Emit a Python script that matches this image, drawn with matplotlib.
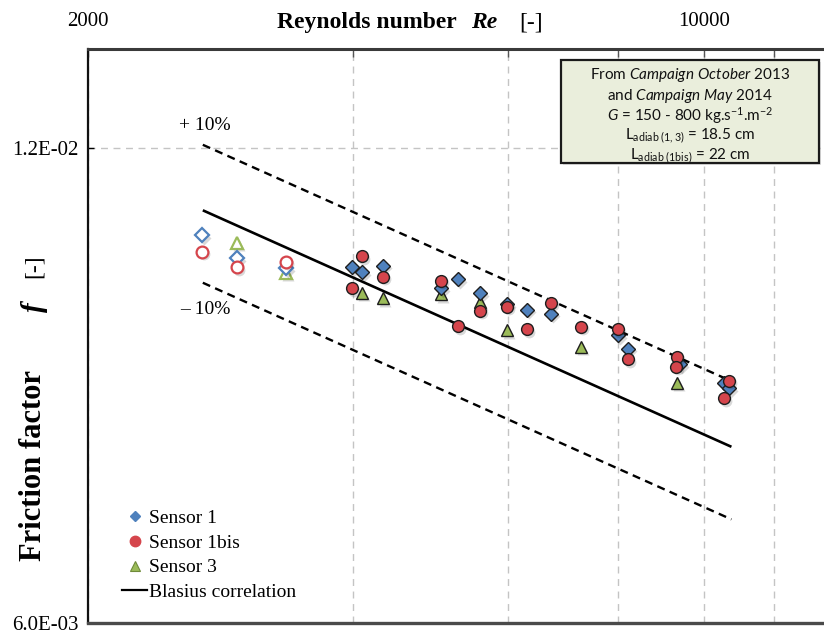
import matplotlib
matplotlib.use("Agg")
import matplotlib.pyplot as plt
from matplotlib.lines import Line2D
from matplotlib.patches import Rectangle
from matplotlib.transforms import offset_copy

# ---------------- data ----------------
# Sensor 1 (blue diamonds)
s1_open_re = [2694, 2952, 3356]
s1_open_f = [0.010570, 0.010217, 0.010073]
s1_re = [3988, 4093, 4324, 5030, 5261, 5572, 5978, 6300, 6709, 7993, 8205, 9398, 10544, 10684]
s1_f = [0.010084, 0.010010, 0.010107, 0.009779, 0.009908, 0.009708, 0.009558, 0.009481,
        0.009426, 0.009135, 0.008957, 0.008756, 0.008513, 0.008455]

# Sensor 1bis (red circles)
s1b_open_re = [2694, 2952, 3356]
s1b_open_f = [0.010316, 0.010084, 0.010166]
s1b_re = [4093, 3988, 4324, 5030, 5572, 5261, 5978, 6300, 6709, 7255, 7993, 8205, 9325, 9300,
          10684, 10544]
s1b_f = [0.010251, 0.009779, 0.009946, 0.009888, 0.009464, 0.009256, 0.009519, 0.009211,
         0.009576, 0.009245, 0.009215, 0.008818, 0.008849, 0.008724, 0.008546, 0.008332]

# Sensor 3 (green triangles)
s3_open_re = [2952, 3356]
s3_open_f = [0.010451, 0.010004]
s3_re = [4093, 4324, 5030, 5572, 5978, 7255, 9325]
s3_f = [0.009716, 0.009637, 0.009694, 0.009589, 0.009202, 0.008978, 0.008521]

# Blasius correlation and +/-10 % bands (end points)
blasius_re = [2700, 10750]
blasius_f = [0.01096, 0.00776]
plus10_f = [0.01206, 0.00854]
minus10_f = [0.00986, 0.00698]

x_ticks = [2000, 4000, 6000, 8000, 10000, 12000]
x_ticklabels = ["2000", "", "", "", "10000", ""]
y_ticks = [0.006, 0.012]
y_ticklabels = ["6.0E-03", "1.2E-02"]

# ---------------- figure ----------------
W, H = 824, 639
fig = plt.figure(figsize=(W / 100, H / 100), dpi=100)
plt.rcParams['mathtext.fontset'] = 'custom'
plt.rcParams['mathtext.rm'] = 'Lato'
plt.rcParams['mathtext.it'] = 'Lato:italic'
plt.rcParams['mathtext.bf'] = 'Lato:bold'

SERIF = "Liberation Serif"


def fx(x):
    return x / W


def fy(y):
    return 1 - y / H


ax = fig.add_axes([fx(88), fy(623), (832.5 - 88) / W, (623 - 49) / H])
ax.set_xscale("log")
ax.set_yscale("log")
ax.set_xlim(2000, 14000)
ax.set_ylim(0.006, 0.01387)

ax.xaxis.tick_top()
ax.set_xticks(x_ticks)
ax.set_xticklabels(x_ticklabels)
ax.set_yticks(y_ticks)
ax.set_yticklabels(y_ticklabels)
ax.minorticks_off()
ax.tick_params(axis="x", which="major", direction="in", length=6, width=1, color="#555555",
               pad=13, labelsize=15)
ax.tick_params(axis="y", which="major", direction="in", length=4, width=1, pad=7, labelsize=15)
for lab in ax.get_xticklabels() + ax.get_yticklabels():
    lab.set_fontfamily(SERIF)

ax.grid(True, which="major", linestyle=(0, (5, 4)), color="#c4c4c4", linewidth=1.0)
ax.set_axisbelow(True)

ax.spines["right"].set_visible(False)
ax.spines["top"].set_linewidth(2.2)
ax.spines["top"].set_color("#3a3a3a")
ax.spines["bottom"].set_linewidth(2.4)
ax.spines["bottom"].set_color("#4a4a4a")
ax.spines["left"].set_linewidth(1.6)
ax.spines["left"].set_color("#111111")

# lines
ax.plot(blasius_re, blasius_f, color="black", lw=1.9, zorder=2, label="Blasius correlation",
        solid_capstyle="butt")
ax.plot(blasius_re, plus10_f, color="black", lw=1.7, ls=(0, (3.4, 2.3)), zorder=2)
ax.plot(blasius_re, minus10_f, color="black", lw=1.7, ls=(0, (3.4, 2.3)), zorder=2)

BLUE = "#4F81BD"
RED = "#D5454C"
GREEN = "#9BBB59"
EDGE = "#1e1e1e"

shadow = offset_copy(ax.transData, fig=fig, x=1.2, y=-1.8, units="points")


def draw(re, f, marker, ms, fc, ec, z, open_=False, label=None):
    ax.plot(re, f, ls="none", marker=marker, ms=ms, mfc="#000000", mec="none", alpha=0.15,
            transform=shadow, zorder=z - 0.5)
    if open_:
        ax.plot(re, f, ls="none", marker=marker, ms=ms, mfc="white", mec=fc, mew=1.6, zorder=z)
    else:
        ax.plot(re, f, ls="none", marker=marker, ms=ms, mfc=fc, mec=ec, mew=1.0, zorder=z,
                label=label)


draw(s3_open_re, s3_open_f, "^", 9, GREEN, EDGE, 3, open_=True)
draw(s1_open_re, s1_open_f, "D", 7.3, BLUE, EDGE, 4, open_=True)
draw(s1b_open_re, s1b_open_f, "o", 8.5, RED, EDGE, 5, open_=True)
draw(s3_re, s3_f, "^", 9, GREEN, EDGE, 3)
draw(s1_re, s1_f, "D", 7.3, BLUE, EDGE, 4)
draw(s1b_re, s1b_f, "o", 8.5, RED, EDGE, 5)

# legend
handles = [
    Line2D([], [], ls="none", marker="D", ms=5.5, mfc=BLUE, mec=BLUE, label="Sensor 1"),
    Line2D([], [], ls="none", marker="o", ms=7.5, mfc=RED, mec=RED, label="Sensor 1bis"),
    Line2D([], [], ls="none", marker="^", ms=7, mfc=GREEN, mec="#6f8a3a", mew=0.8, label="Sensor 3"),
    Line2D([], [], color="black", lw=1.6, label="Blasius correlation"),
]
leg = fig.legend(handles=handles, loc="lower left", bbox_to_anchor=(fx(122), fy(601)),
                 frameon=False, prop={"family": SERIF, "size": 14}, handlelength=1.3,
                 handletextpad=0.1, labelspacing=0.36, borderpad=0, borderaxespad=0)

# band annotations
fig.text(fx(205), fy(125), "+ 10%", family=SERIF, fontsize=14, ha="center", va="center")
fig.text(fx(205), fy(310), "\u2013 10%", family=SERIF, fontsize=14, ha="center", va="center")

# x-axis title (top)
ty = fy(28)
fig.text(fx(277), ty, "Reynolds number", family=SERIF, fontsize=17, fontweight="bold",
         va="baseline", ha="left")
fig.text(fx(471), ty, "Re", family=SERIF, fontsize=17, fontweight="bold", style="italic",
         va="baseline", ha="left")
fig.text(fx(519), ty, "[-]", family=SERIF, fontsize=17, va="baseline", ha="left")

# y-axis title
lx = fx(34)
fig.text(lx, fy(561), "Friction factor", family=SERIF, fontsize=22, fontweight="bold",
         rotation=90, ha="center", va="bottom")
fig.text(lx, fy(312), "f", family=SERIF, fontsize=21, fontweight="bold", style="italic",
         rotation=90, ha="center", va="bottom")
fig.text(lx, fy(278), "[-]", family=SERIF, fontsize=17, rotation=90, ha="center", va="bottom")

# info box
bx0, by0, bx1, by1 = 561, 60, 819, 163
fig.patches.append(Rectangle((fx(bx0) + 2 / W, fy(by1) - 2 / H), (bx1 - bx0) / W, (by1 - by0) / H,
                             transform=fig.transFigure, fc="#000000", alpha=0.12, ec="none",
                             zorder=8))
fig.patches.append(Rectangle((fx(bx0), fy(by1)), (bx1 - bx0) / W, (by1 - by0) / H,
                             transform=fig.transFigure, fc="#EAEEDC", ec="#1a1a1a", lw=1.6,
                             zorder=9))
cx = fx((bx0 + bx1) / 2)
box_lines = [
    (75, r"From $\mathit{Campaign\ October\ 2013}$"),
    (96, r"and $\mathit{Campaign\ May\ 2014}$"),
    (116, r"$\mathit{G}$ = 150 - 800 kg.s$^{-1}$.m$^{-2}$"),
    (136, r"L$_{\mathrm{adiab\ (1,3)}}$ = 18.5 cm"),
    (156, r"L$_{\mathrm{adiab\ (1bis)}}$ = 22 cm"),
]
for yy, s in box_lines:
    fig.text(cx, fy(yy), s, family="Lato", fontsize=11, ha="center", va="center", zorder=10,
             color="#111111")

fig.savefig("out.png", dpi=100)
